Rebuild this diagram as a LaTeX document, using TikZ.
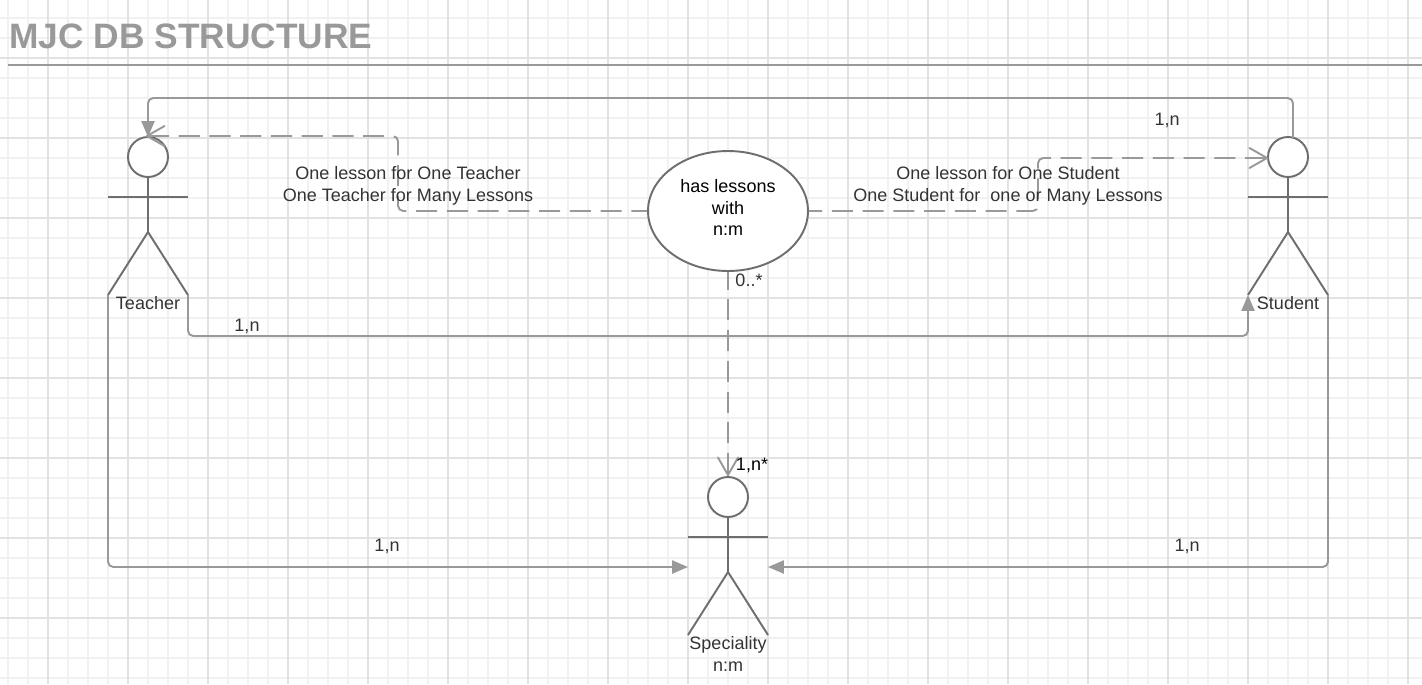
\documentclass[tikz,border=0pt]{standalone}
\usepackage{fontspec}
\setmainfont{Liberation Sans}
\usepackage{xcolor}
\usetikzlibrary{positioning,arrows.meta,shapes.geometric,calc}
\definecolor{gridmajor}{RGB}{226,226,226}
\definecolor{gridminor}{RGB}{241,241,241}
\definecolor{linkgray}{RGB}{153,153,153}
\definecolor{figgray}{RGB}{110,110,110}
\definecolor{textgray}{RGB}{51,51,51}
\begin{document}
\begin{tikzpicture}[
  x=0.02cm, y=-0.02cm,
  label/.style={font=\fontsize{10.25}{12.5}\selectfont, text=textgray, align=center, inner sep=0pt},
  head/.style={circle, draw=figgray, fill=white, line width=1.1pt, minimum size=0.8cm, inner sep=0pt},
  limb/.style={draw=figgray, line width=1.1pt},
  solidlink/.style={draw=linkgray, line width=1.1pt, rounded corners=3pt, -{Triangle[length=9pt,width=7.4pt,fill=linkgray]}},
  dashlink/.style={draw=linkgray, line width=1.1pt, rounded corners=3pt, dash pattern=on 12pt off 5.5pt,
                   {Straight Barb[length=10pt,width=11.4pt,line width=1.1pt,round,sep=0pt]}-}
]
  \useasboundingbox (0,0) rectangle (1422,684);
  % grid
  \foreach \x in {8,28,...,1420} \draw[gridminor, line width=1.1pt] (\x,0) -- (\x,684);
  \foreach \y in {18,38,...,680} \draw[gridminor, line width=1.1pt] (0,\y) -- (1422,\y);
  \foreach \x in {48,128,...,1420} \draw[gridmajor, line width=1.1pt] (\x,0) -- (\x,684);
  \foreach \y in {58,138,...,680} \draw[gridmajor, line width=1.1pt] (0,\y) -- (1422,\y);

  % title
  \node[anchor=west, inner sep=0pt, text=linkgray, font=\fontsize{20.1}{24}\selectfont\bfseries] (title) at (9,36) {MJC DB STRUCTURE};
  \coordinate (ruleL) at (8,65);
  \coordinate (ruleR) at (1422,65);
  \draw[linkgray, line width=1.1pt] (ruleL) -- (ruleR);

  % stick figures
  \foreach \name/\x/\y in {teacher/148/157, student/1288/157, speciality/728/497} {
    \node[head] (\name-head) at (\x,\y) {};
    \coordinate (\name-lhand) at (\x-40,\y+40);
    \coordinate (\name-rhand) at (\x+40,\y+40);
    \coordinate (\name-hip) at (\x,\y+75);
    \coordinate (\name-lfoot) at (\x-40,\y+138);
    \coordinate (\name-rfoot) at (\x+40,\y+138);
    \draw[limb] (\name-head) -- (\name-hip);
    \draw[limb] (\name-lhand) -- (\name-rhand);
    \draw[limb] (\name-lfoot) -- (\name-hip) -- (\name-rfoot);
  }

  % relation
  \node[ellipse, draw=figgray, fill=white, line width=1.1pt, minimum width=3.2cm, minimum height=2.4cm, inner sep=0pt] (lessons) at (728,211) {};
  \node[label, text=black] (lessonslbl) at (728,207.5) {has lessons\\with\\n:m};

  % links
  \coordinate (studentout) at (1293,138);
  \coordinate (teacherin) at (148,137);
  \coordinate (teacherdash) at (146,136);
  \coordinate (studentin) at (1268,158);
  \coordinate (specin) at (768,567);
  \coordinate (specinl) at (688,567);
  \draw[solidlink] (studentout) -- (1293,98) -| (teacherin);
  \draw[dashlink] (teacherdash) -- (398,136) |- (lessons.west);
  \draw[dashlink] (studentin) -- (1038,158) |- (lessons.east);
  \draw[dashlink] (speciality-head.north) -- (lessons.south);
  \draw[solidlink] (teacher-rfoot) |- (1248,336) -- (student-lfoot);
  \draw[solidlink] (teacher-lfoot) |- (specinl);
  \draw[solidlink] (student-rfoot) |- (specin);

  % labels
  \node[label] (teacherlbl) at (148,303) {Teacher};
  \node[label] (studentlbl) at (1288,303) {Student};
  \node[label] (speclbl) at (728,654) {Speciality\\n:m};
  \node[label] (leftnote) at (408,186) {One lesson for One Teacher\\One Teacher for Many Lessons};
  \node[label] (rightnote) at (1008,186) {One lesson for One Student\\One Student for\ \ one or Many Lessons};
  \node[label] (card1) at (1167,120) {1,n};
  \node[label] (card2) at (247,326) {1,n};
  \node[label] (card3) at (387,546) {1,n};
  \node[label] (card4) at (1187,546) {1,n};
  \node[label] (card5) at (749,280) {0..*};
  \node[label, text=black] (card6) at (752,465) {1,n*};
\end{tikzpicture}
\end{document}
